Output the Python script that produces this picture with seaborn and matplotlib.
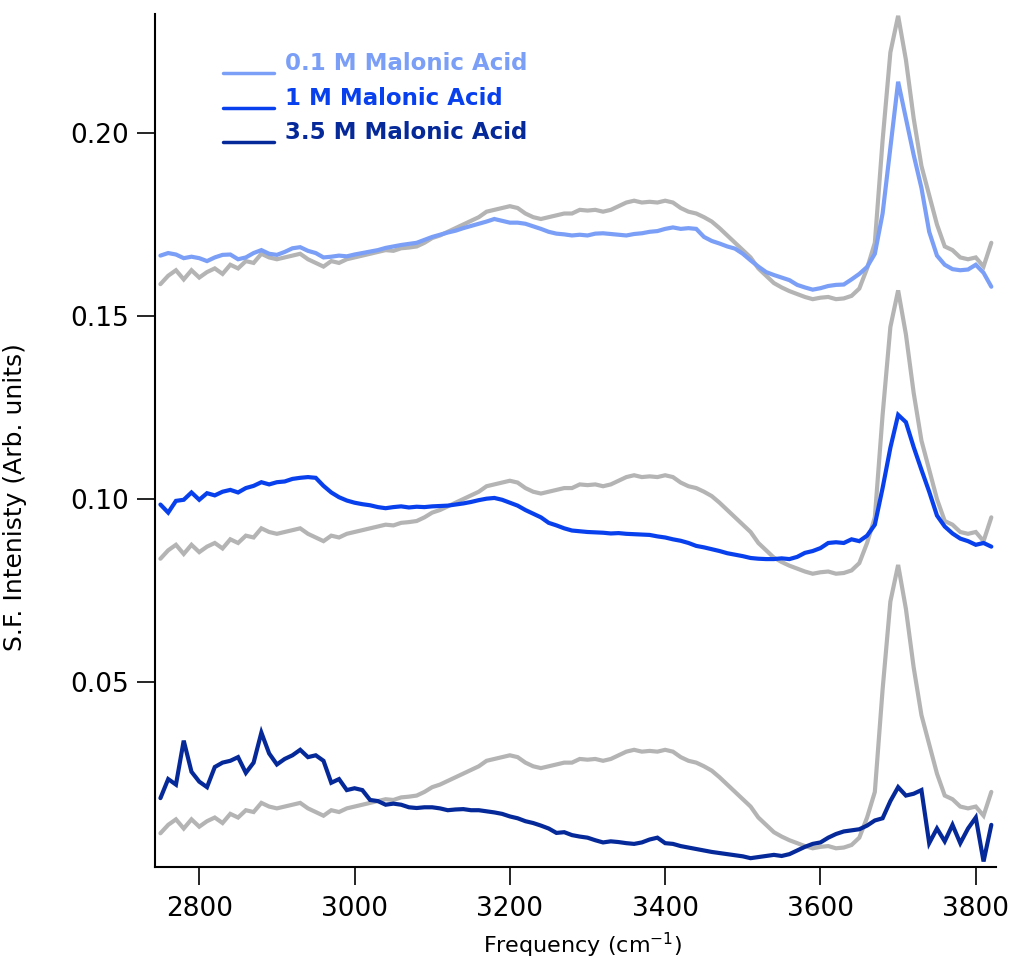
import numpy as np
import matplotlib
matplotlib.use("Agg")
import matplotlib.pyplot as plt
import seaborn as sns
from matplotlib.legend_handler import HandlerLine2D

# ---------------- data ----------------
freq = np.arange(2750, 3830, 10)  # cm^-1 sampling grid (2750 ... 3820)

# neat water reference spectrum (gray), shown offset behind each sample
water_ref = [
    0.0087, 0.0110, 0.0125, 0.0100, 0.0125, 0.0105, 0.0120, 0.0130, 0.0115, 0.0140,
    0.0130, 0.0150, 0.0145, 0.0170, 0.0160, 0.0155, 0.0160, 0.0165, 0.0170, 0.0155,
    0.0145, 0.0135, 0.0150, 0.0145, 0.0155, 0.0160, 0.0165, 0.0170, 0.0175, 0.0180,
    0.0178, 0.0185, 0.0187, 0.0190, 0.0200, 0.0213, 0.0220, 0.0230, 0.0240, 0.0250,
    0.0260, 0.0270, 0.0285, 0.0290, 0.0295, 0.0300, 0.0295, 0.0280, 0.0270, 0.0265,
    0.0270, 0.0275, 0.0280, 0.0280, 0.0290, 0.0288, 0.0290, 0.0285, 0.0290, 0.0300,
    0.0310, 0.0315, 0.0310, 0.0312, 0.0310, 0.0315, 0.0310, 0.0295, 0.0285, 0.0280,
    0.0270, 0.0258, 0.0240, 0.0220, 0.0200, 0.0180, 0.0160, 0.0130, 0.0110, 0.0090,
    0.0078, 0.0068, 0.0060, 0.0052, 0.0046, 0.0050, 0.0052, 0.0046, 0.0048, 0.0055,
    0.0075, 0.0130, 0.0200, 0.0480, 0.0720, 0.0820, 0.0700, 0.0540, 0.0410, 0.0330,
    0.0250, 0.0190, 0.0180, 0.0160, 0.0155, 0.0160, 0.0135, 0.0200,
]
water_offsets = [0.150, 0.075, 0.0]

acid_01M = [
    0.1665, 0.1672, 0.1668, 0.1658, 0.1662, 0.1658, 0.1650, 0.1660, 0.1667, 0.1668,
    0.1655, 0.1660, 0.1672, 0.1680, 0.1670, 0.1667, 0.1675, 0.1685, 0.1688, 0.1678,
    0.1672, 0.1660, 0.1662, 0.1665, 0.1663, 0.1668, 0.1672, 0.1676, 0.1680, 0.1686,
    0.1690, 0.1694, 0.1697, 0.1700, 0.1708, 0.1716, 0.1722, 0.1728, 0.1733, 0.1740,
    0.1746, 0.1752, 0.1758, 0.1765, 0.1760, 0.1755, 0.1755, 0.1752, 0.1745, 0.1738,
    0.1730, 0.1725, 0.1723, 0.1720, 0.1722, 0.1720, 0.1725, 0.1726, 0.1724, 0.1722,
    0.1720, 0.1724, 0.1726, 0.1730, 0.1732, 0.1738, 0.1742, 0.1738, 0.1740, 0.1738,
    0.1716, 0.1705, 0.1698, 0.1690, 0.1684, 0.1670, 0.1652, 0.1635, 0.1620, 0.1612,
    0.1605, 0.1598, 0.1585, 0.1578, 0.1572, 0.1576, 0.1582, 0.1585, 0.1586, 0.1600,
    0.1615, 0.1634, 0.1670, 0.1780, 0.1960, 0.2140, 0.2040, 0.1940, 0.1850, 0.1730,
    0.1665, 0.1640, 0.1628, 0.1625, 0.1627, 0.1640, 0.1618, 0.1580,
]

acid_1M = [
    0.0985, 0.0963, 0.0995, 0.0998, 0.1018, 0.0998, 0.1016, 0.1010, 0.1020, 0.1025,
    0.1018, 0.1030, 0.1036, 0.1046, 0.1040, 0.1046, 0.1048, 0.1055, 0.1058, 0.1060,
    0.1058, 0.1036, 0.1018, 0.1005, 0.0996, 0.0990, 0.0986, 0.0983, 0.0978, 0.0975,
    0.0978, 0.0980, 0.0977, 0.0979, 0.0978, 0.0980, 0.0981, 0.0982, 0.0985, 0.0988,
    0.0992, 0.0997, 0.1001, 0.1003, 0.0998, 0.0990, 0.0982, 0.0970, 0.0960, 0.0950,
    0.0935, 0.0928, 0.0920, 0.0914, 0.0912, 0.0910, 0.0909, 0.0908, 0.0906, 0.0907,
    0.0905, 0.0904, 0.0903, 0.0902, 0.0898, 0.0895, 0.0890, 0.0886, 0.0880, 0.0872,
    0.0868, 0.0863, 0.0858, 0.0852, 0.0848, 0.0844, 0.0839, 0.0837, 0.0836, 0.0836,
    0.0838, 0.0836, 0.0842, 0.0853, 0.0858, 0.0866, 0.0880, 0.0882, 0.0880, 0.0890,
    0.0885, 0.0900, 0.0930, 0.1030, 0.1140, 0.1230, 0.1210, 0.1142, 0.1080, 0.1020,
    0.0955, 0.0925, 0.0906, 0.0892, 0.0885, 0.0875, 0.0880, 0.0870,
]

acid_35M = [
    0.0183, 0.0235, 0.0220, 0.0340, 0.0255, 0.0228, 0.0213, 0.0268, 0.0280, 0.0285,
    0.0295, 0.0252, 0.0280, 0.0362, 0.0305, 0.0275, 0.0290, 0.0300, 0.0315, 0.0295,
    0.0300, 0.0285, 0.0225, 0.0235, 0.0205, 0.0210, 0.0205, 0.0178, 0.0175, 0.0165,
    0.0168, 0.0165, 0.0158, 0.0156, 0.0158, 0.0158, 0.0155, 0.0150, 0.0152, 0.0153,
    0.0150, 0.0150, 0.0147, 0.0144, 0.0140, 0.0133, 0.0128, 0.0120, 0.0115, 0.0108,
    0.0100, 0.0088, 0.0090, 0.0082, 0.0078, 0.0075, 0.0068, 0.0062, 0.0065, 0.0063,
    0.0060, 0.0058, 0.0062, 0.0070, 0.0075, 0.0060, 0.0058, 0.0052, 0.0048, 0.0044,
    0.0040, 0.0036, 0.0033, 0.0030, 0.0027, 0.0024, 0.0019, 0.0022, 0.0025, 0.0028,
    0.0025, 0.0030, 0.0040, 0.0050, 0.0058, 0.0062, 0.0075, 0.0085, 0.0092, 0.0095,
    0.0098, 0.0108, 0.0122, 0.0128, 0.0175, 0.0213, 0.0190, 0.0195, 0.0205, 0.0060,
    0.0100, 0.0065, 0.0110, 0.0060, 0.0100, 0.0130, 0.0010, 0.0110,
]

series_labels = ["0.1 M Malonic Acid", "1 M Malonic Acid", "3.5 M Malonic Acid"]
series_values = [acid_01M, acid_1M, acid_35M]
series_colors = ["#7B9FF6", "#0840EE", "#06299A"]
gray_color = "#B4B4B4"

xticks = [2800, 3000, 3200, 3400, 3600, 3800]
yticks = [0.05, 0.10, 0.15, 0.20]

# ---------------- figure ----------------
sns.set_style("ticks")
plt.rcParams["font.family"] = ["DejaVu Sans"]
plt.rcParams["text.color"] = "black"
plt.rcParams["axes.labelcolor"] = "black"

fig = plt.figure(figsize=(10.13, 9.65), dpi=100)
ax = fig.add_axes([0.1530, 0.1016, 0.8302, 0.8839])

lw = 3.0
water = np.array(water_ref)
for off in water_offsets:
    sns.lineplot(x=freq, y=water + off, color=gray_color, lw=lw, ax=ax,
                 legend=False, solid_joinstyle="miter")

for lab, vals, col in zip(series_labels, series_values, series_colors):
    sns.lineplot(x=freq, y=np.array(vals), color=col, lw=lw, ax=ax,
                 label=lab, solid_joinstyle="miter")

ax.set_xlim(2743, 3826)
ax.set_ylim(-0.0005, 0.2325)
ax.set_xticks(xticks)
ax.set_xticklabels([str(t) for t in xticks])
ax.set_yticks(yticks)
ax.set_yticklabels([f"{t:.2f}" for t in yticks])

sns.despine(ax=ax)
for s in ["left", "bottom"]:
    ax.spines[s].set_linewidth(1.5)
    ax.spines[s].set_color("black")
ax.tick_params(axis="both", direction="out", length=13, width=1.2,
               labelsize=19, color="black", labelcolor="black")
ax.tick_params(axis="x", pad=8)
ax.tick_params(axis="y", pad=6)

ax.set_xlabel("Frequency (cm$^{\\mathregular{-1}}$)", fontsize=16, color="black")
ax.set_ylabel("S.F. Intenisty (Arb. units)", fontsize=18, color="black")
ax.xaxis.set_label_coords(0.508, -0.075)
ax.yaxis.set_label_coords(-0.152, 0.434)


class LowLineHandler(HandlerLine2D):
    def create_artists(self, legend, orig_handle, xdescent, ydescent,
                       width, height, fontsize, trans):
        arts = super().create_artists(legend, orig_handle, xdescent, ydescent,
                                      width, height, fontsize, trans)
        for a in arts:
            yd = np.asarray(a.get_ydata(), dtype=float)
            a.set_ydata(np.full(len(yd), -0.12 * fontsize))
        return arts


handles, labels = ax.get_legend_handles_labels()
leg = ax.legend(handles, labels, loc="upper left", bbox_to_anchor=(0.081, 0.955),
                frameon=False, borderpad=0, borderaxespad=0,
                handlelength=2.2, handletextpad=0.5, labelspacing=0.50,
                prop={"weight": "bold", "size": 16.5}, labelcolor="linecolor",
                handler_map={matplotlib.lines.Line2D: LowLineHandler()})
for h in leg.get_lines():
    h.set_linewidth(2.5)

fig.savefig("out.png", dpi=100, facecolor="white")
